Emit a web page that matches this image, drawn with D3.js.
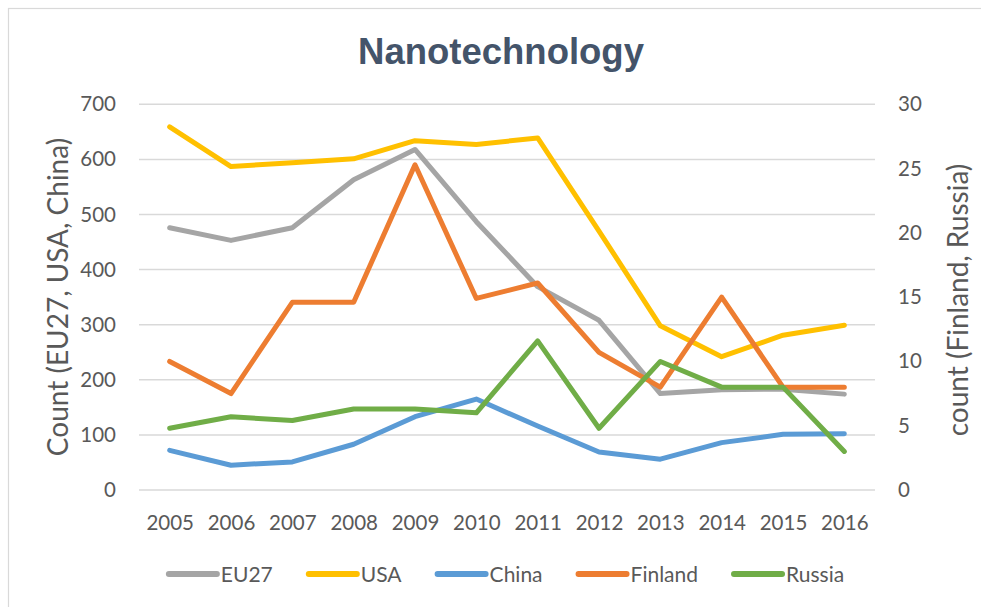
<!DOCTYPE html>
<html>
<head>
<meta charset="utf-8">
<script src="https://cdnjs.cloudflare.com/ajax/libs/d3/7.8.5/d3.min.js"></script>
<style>
  body { margin: 0; background: #fff; }
  text { font-family: Lato, "Open Sans", sans-serif; fill: #595959; }
</style>
</head>
<body>
<div class="chart"></div>
<script>
var years = ["2005","2006","2007","2008","2009","2010","2011","2012","2013","2014","2015","2016"];

// left axis series
var eu27  = [476, 453, 476, 563, 618, 487, 369, 308, 175, 182, 183, 174];
var usa   = [659, 587, 594, 601, 634, 627, 639, 470, 298, 242, 281, 299];
var china = [72, 45, 51, 83, 133, 165, 116, 69, 56, 86, 101, 102];

// right axis series
var finland = [10, 7.5, 14.6, 14.6, 25.3, 14.9, 16.1, 10.7, 8, 15, 8, 8];
var russia  = [4.8, 5.7, 5.4, 6.3, 6.3, 6, 11.6, 4.8, 10, 8, 8, 3];

var leftTicks = [0, 100, 200, 300, 400, 500, 600, 700];
var rightTicks = [0, 5, 10, 15, 20, 25, 30];

var series = [
  {name: "EU27", values: eu27, color: "#A5A5A5", axis: "left"},
  {name: "USA", values: usa, color: "#FFC000", axis: "left"},
  {name: "China", values: china, color: "#5B9BD5", axis: "left"},
  {name: "Finland", values: finland, color: "#ED7D31", axis: "right"},
  {name: "Russia", values: russia, color: "#70AD47", axis: "right"}
];

var W = 981, H = 607;
var plot = {left: 139, right: 875, top: 104.3, bottom: 490};

var svg = d3.select(".chart").append("svg")
  .attr("width", W)
  .attr("height", H);

// outer frame
svg.append("rect")
  .attr("x", 8.5).attr("y", 8.5)
  .attr("width", W + 10).attr("height", H - 3)
  .attr("fill", "none")
  .attr("stroke", "#d9d9d9")
  .attr("stroke-width", 1.2);

var x = d3.scalePoint()
  .domain(years)
  .range([plot.left, plot.right])
  .padding(0.5);

var yLeft = d3.scaleLinear().domain([0, 700]).range([plot.bottom, plot.top]);
var yRight = d3.scaleLinear().domain([0, 30]).range([plot.bottom, plot.top]);

// gridlines
svg.append("g")
  .selectAll("line")
  .data(leftTicks)
  .enter()
  .append("line")
    .attr("x1", plot.left)
    .attr("x2", plot.right)
    .attr("y1", function(d) { return yLeft(d); })
    .attr("y2", function(d) { return yLeft(d); })
    .attr("stroke", "#d9d9d9")
    .attr("stroke-width", 1.5);

// axes
var gL = svg.append("g")
  .attr("transform", "translate(" + plot.left + ",0)")
  .call(d3.axisLeft(yLeft).tickValues(leftTicks).tickSize(0).tickPadding(23));
var gR = svg.append("g")
  .attr("transform", "translate(" + plot.right + ",0)")
  .call(d3.axisRight(yRight).tickValues(rightTicks).tickSize(0).tickPadding(23));
var gB = svg.append("g")
  .attr("transform", "translate(0," + plot.bottom + ")")
  .call(d3.axisBottom(x).tickSize(0).tickPadding(25));

[gL, gR, gB].forEach(function(g) {
  g.select(".domain").remove();
  g.selectAll("text")
    .attr("fill", "#595959")
    .style("font-family", "Lato, 'Open Sans', sans-serif")
    .style("font-size", "20.5px");
});

// lines
var line = d3.line()
  .x(function(d, i) { return x(years[i]); });

series.forEach(function(s) {
  var yS = s.axis == "left" ? yLeft : yRight;
  svg.append("path")
    .datum(s.values)
    .attr("fill", "none")
    .attr("stroke", s.color)
    .attr("stroke-width", 5)
    .attr("stroke-linejoin", "round")
    .attr("stroke-linecap", "round")
    .attr("d", line.y(function(d) { return yS(d); }));
});

// title
svg.append("text")
  .attr("x", 501)
  .attr("y", 64)
  .attr("text-anchor", "middle")
  .style("font-family", "'Liberation Sans', Arial, sans-serif")
  .style("font-weight", "bold")
  .style("font-size", "36.5px")
  .style("fill", "#44546A")
  .text("Nanotechnology");

// axis titles
svg.append("text")
  .attr("transform", "translate(68,297) rotate(-90)")
  .attr("text-anchor", "middle")
  .style("font-size", "28px")
  .text("Count (EU27, USA, China)");

svg.append("text")
  .attr("transform", "translate(968,300) rotate(-90)")
  .attr("text-anchor", "middle")
  .style("font-size", "28px")
  .text("count (Finland, Russia)");

// legend
var legend = svg.append("g");
var lx = 0;
series.forEach(function(s) {
  var it = legend.append("g").attr("transform", "translate(" + lx + ",0)");
  it.append("line")
    .attr("x1", 3).attr("x2", 51)
    .attr("y1", 0).attr("y2", 0)
    .attr("stroke", s.color)
    .attr("stroke-width", 6)
    .attr("stroke-linecap", "round");
  var t = it.append("text")
    .attr("x", 55)
    .attr("y", 7.5)
    .style("font-size", "21px")
    .text(s.name);
  lx += 55 + t.node().getComputedTextLength() + 33;
});
var legendW = lx - 33;
legend.attr("transform", "translate(" + (505 - legendW / 2) + ",574)");
</script>
</body>
</html>
